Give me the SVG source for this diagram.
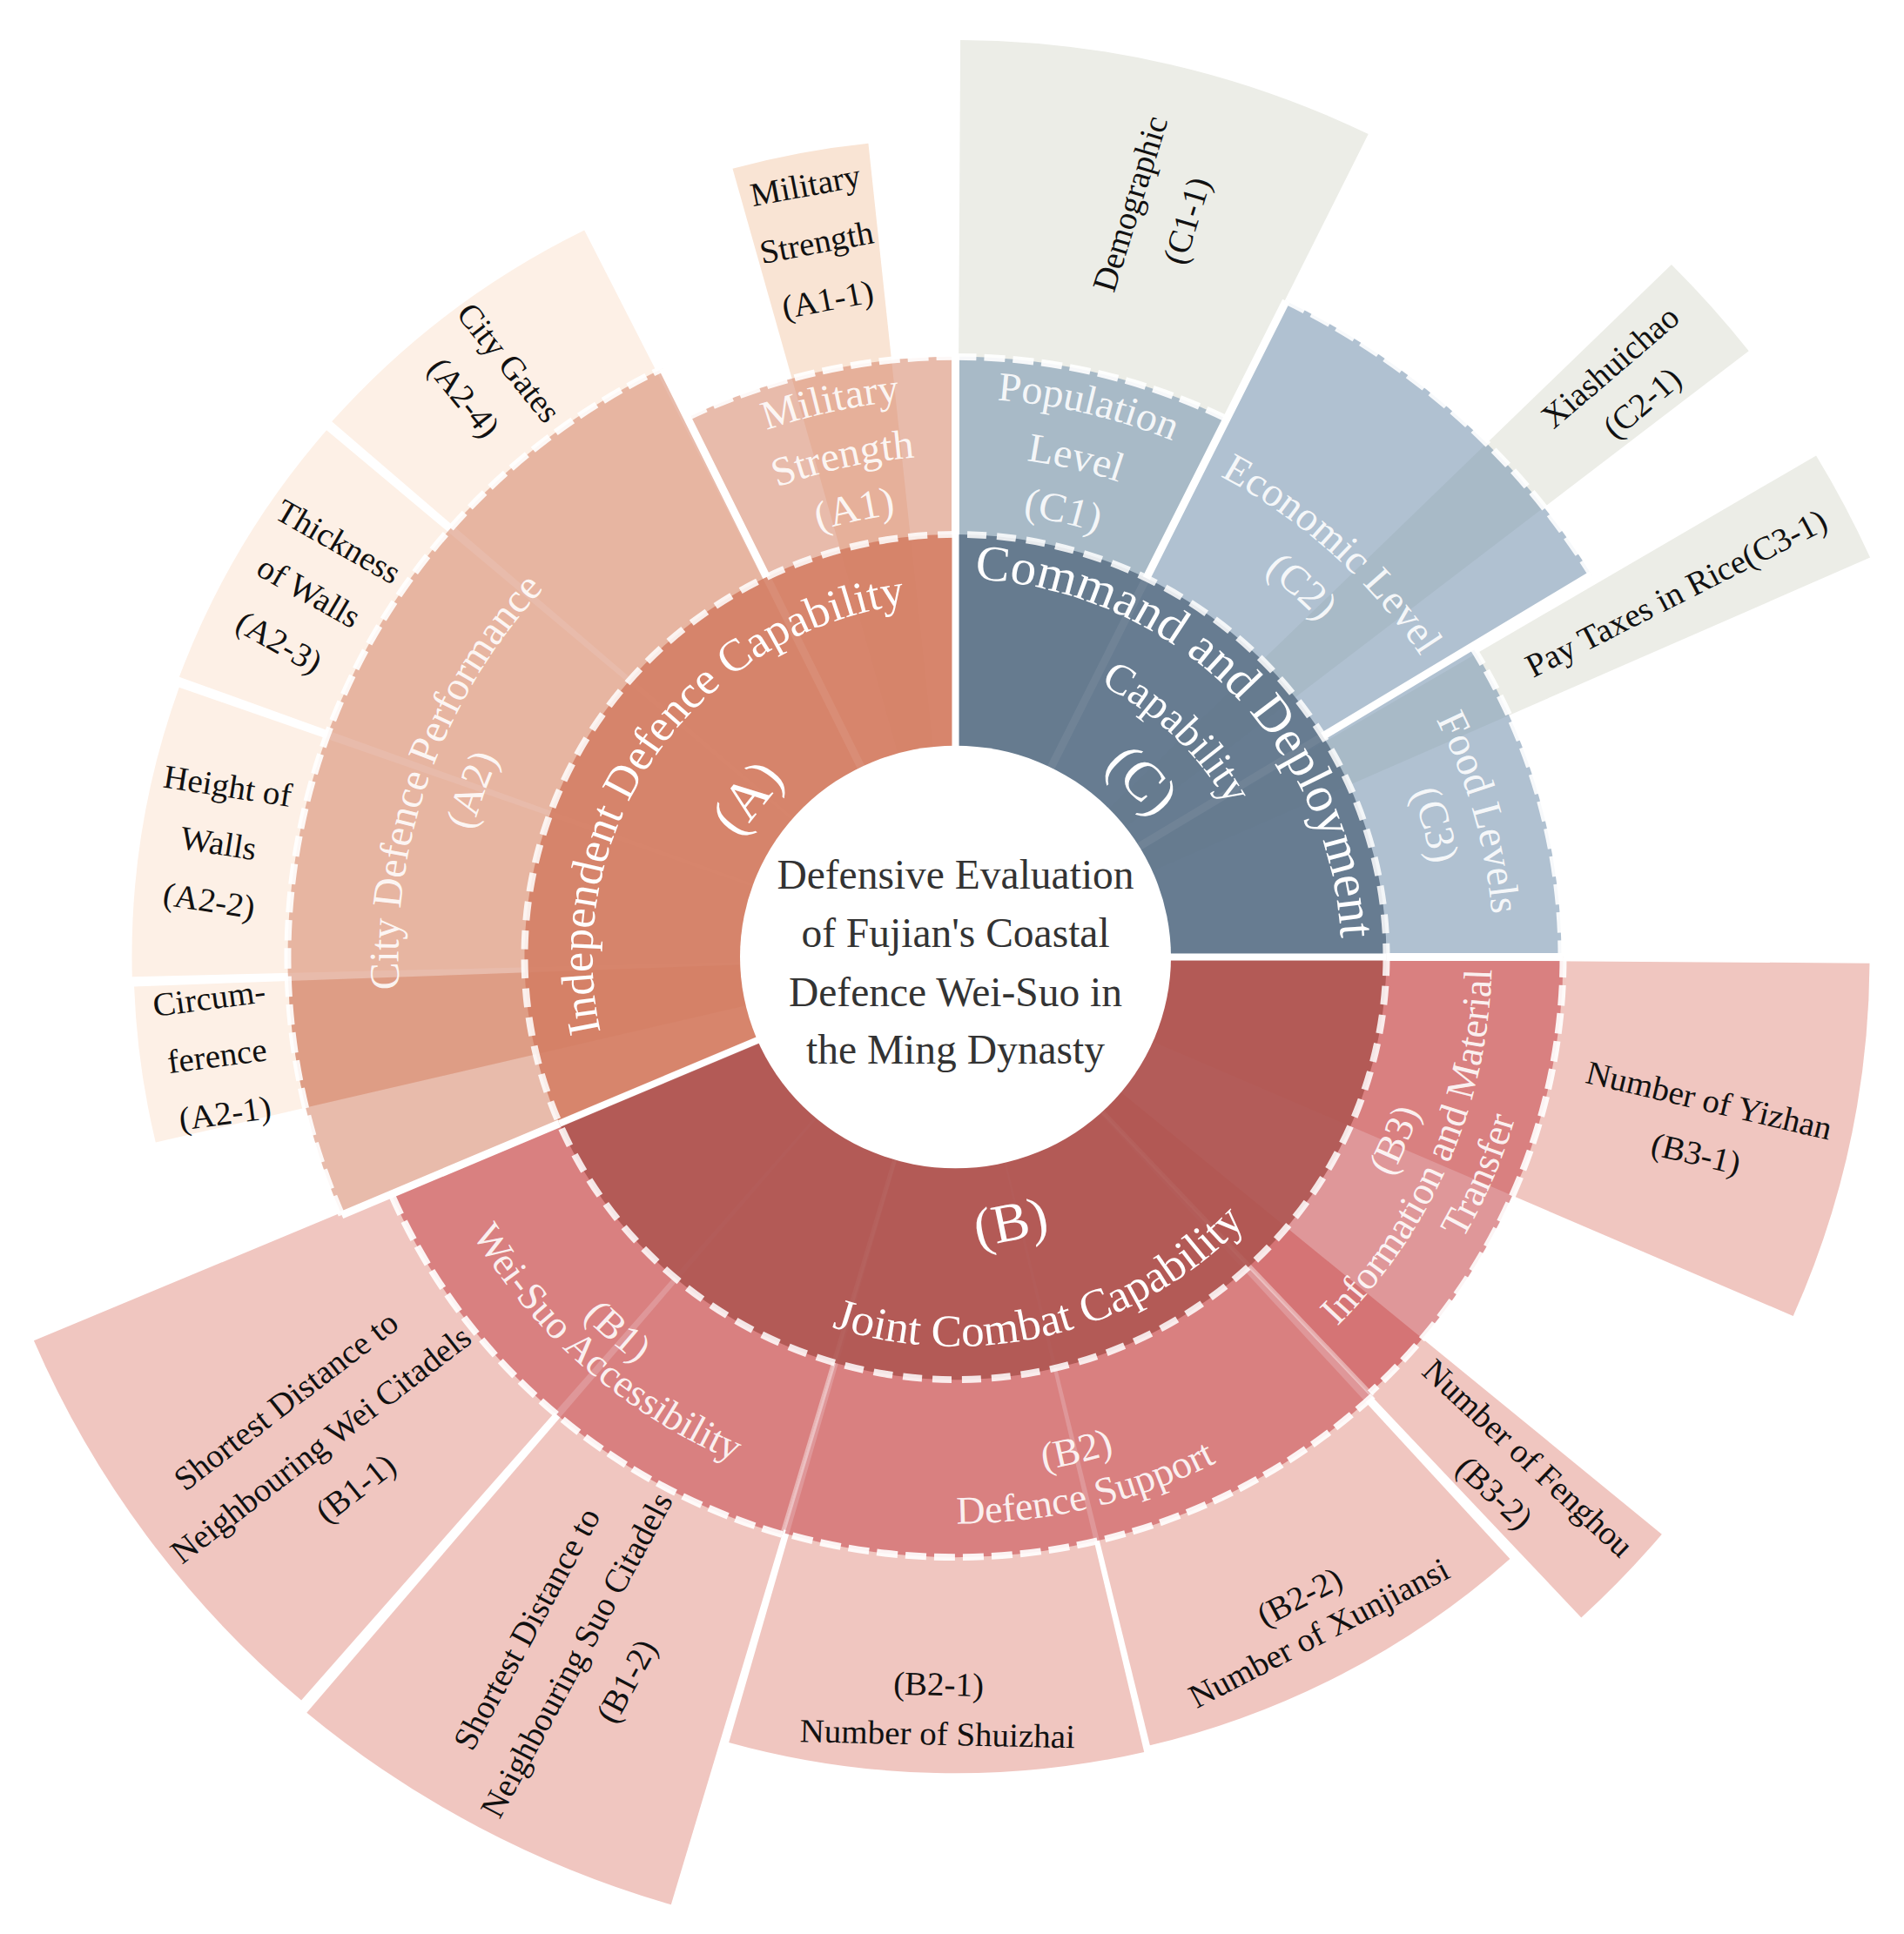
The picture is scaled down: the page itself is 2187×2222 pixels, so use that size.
<svg xmlns="http://www.w3.org/2000/svg" width="2187" height="2222" viewBox="0 0 2187 2222">
<defs>
<style>
text { font-family: "Liberation Serif", "Times New Roman", serif; }
.l3 { font-size: 39px; fill: #111; text-anchor: middle; }
.l2 { font-size: 48px; fill: #fff; fill-opacity: 0.9; text-anchor: middle; }
.l2b { font-size: 46px; fill: #fff; fill-opacity: 0.9; text-anchor: middle; }
.l1 { fill: #fff; text-anchor: middle; }
.lp { font-size: 64px; fill: #fff; text-anchor: middle; }
.a3 { fill: #fdf0e6; } .a3b { fill: #f9e4d4; } .c3 { fill: #ecede7; } .b3 { fill: #f0c6c0; }
.a2 { fill: #d88e73; fill-opacity: 0.6; } .c2 { fill: #7c98b3; fill-opacity: 0.6; } .b2 { fill: #ca5155; fill-opacity: 0.6; }
.a1 { fill: #d47d63; fill-opacity: 0.88; } .c1 { fill: #5c7288; fill-opacity: 0.88; } .b1 { fill: #ad5450; fill-opacity: 0.88; }
.dash2 { fill: none; stroke: #fff; stroke-opacity: 0.9; stroke-width: 8; stroke-dasharray: 24 9; }
.dash1 { fill: none; stroke: #fff; stroke-opacity: 0.85; stroke-width: 8; stroke-dasharray: 22 12; }
.sep2 { stroke: #fff; stroke-width: 9; fill: none; }
.sep2f { stroke: #fff; stroke-opacity: 0.4; stroke-width: 5; fill: none; }
.sep1 { stroke: #fff; stroke-width: 8; fill: none; }
</style>
<path id="o417" d="M -417 0 A 417 417 0 0 1 417 0"/>
<path id="o443" d="M -443 0 A 443 443 0 0 1 443 0"/>
<path id="o360" d="M -360 0 A 360 360 0 0 1 360 0"/>
<path id="o654" d="M -654 0 A 654 654 0 0 1 654 0"/>
<path id="o587" d="M -587 0 A 587 587 0 0 1 587 0"/>
<path id="o523" d="M -523 0 A 523 523 0 0 1 523 0"/>
<path id="o640" d="M -640 0 A 640 640 0 0 1 640 0"/>
<path id="o574" d="M -574 0 A 574 574 0 0 1 574 0"/>
<path id="o618" d="M -618 0 A 618 618 0 0 1 618 0"/>
<path id="o558" d="M -558 0 A 558 558 0 0 1 558 0"/>
<path id="i456" d="M -456 0 A 456 456 0 0 0 456 0"/>
<path id="i563" d="M -563 0 A 563 563 0 0 0 563 0"/>
<path id="i616" d="M -616 0 A 616 616 0 0 0 616 0"/>
<path id="i670" d="M -670 0 A 670 670 0 0 0 670 0"/>
<path id="i609" d="M -609 0 A 609 609 0 0 0 609 0"/>
<path id="i664" d="M -664 0 A 664 664 0 0 0 664 0"/>
<path id="i600" d="M -600 0 A 600 600 0 0 0 600 0"/>
<path id="i643" d="M -643 0 A 643 643 0 0 0 643 0"/>
</defs>
<rect x="0" y="0" width="2187" height="2222" fill="#fff"/>
<g id="sunburst" transform="translate(1097.5 1099.5) scale(1 0.981)">
<g id="level3">
<g id="node-A2-1"><path class="a3" d="M0 0 L-918.7 217.2 A944 944 0 0 1 -943.4 34.6 Z"/>
<text class="l3" transform="translate(-848.3 114.7) rotate(-7.7)"><tspan x="0" y="-54">Circum-</tspan><tspan x="0" y="14">ference</tspan><tspan x="0" y="82">(A2-1)</tspan></text></g>
<g id="node-A2-2"><path class="a3" d="M0 0 L-945.7 23.1 A946 946 0 0 1 -891.7 -315.8 Z"/>
<text class="l3" transform="translate(-846.5 -134.1) rotate(9)"><tspan x="0" y="-54">Height of</tspan><tspan x="0" y="14">Walls</tspan><tspan x="0" y="82">(A2-2)</tspan></text></g>
<g id="node-A2-3"><path class="a3" d="M0 0 L-891.6 -328.0 A950 950 0 0 1 -722.4 -617.0 Z"/>
<text class="l3" transform="translate(-742.2 -428.5) rotate(30)"><tspan x="0" y="-54">Thickness</tspan><tspan x="0" y="14">of Walls</tspan><tspan x="0" y="82">(A2-3)</tspan></text></g>
<g id="node-A2-4"><path class="a3" d="M0 0 L-716.3 -627.1 A952 952 0 0 1 -426.3 -851.2 Z"/>
<text class="l3" transform="translate(-537.9 -676.2) rotate(51.5)"><tspan x="0" y="-19">City Gates</tspan><tspan x="0" y="47">(A2-4)</tspan></text></g>
<g id="node-A1-1"><path class="a3b" d="M0 0 L-256.0 -923.2 A958 958 0 0 1 -100.1 -952.8 Z"/>
<text class="l3" transform="translate(-159.8 -837.9) rotate(-10.8)"><tspan x="0" y="-54">Military</tspan><tspan x="0" y="14">Strength</tspan><tspan x="0" y="82">(A1-1)</tspan></text></g>
<g id="node-C1-1"><path class="c3" d="M0 0 L5.6 -1074.0 A1074 1074 0 0 1 474.2 -963.7 Z"/>
<text class="l3" transform="translate(232.2 -872.6) rotate(-73)"><tspan x="0" y="-20">Demographic</tspan><tspan x="0" y="48">(C1-1)</tspan></text></g>
<g id="node-C2-1"><path class="c3" d="M0 0 L822.4 -811.0 A1155 1155 0 0 1 911.2 -709.8 Z"/>
<text class="l3" transform="translate(769.6 -671.0) rotate(-41.1)"><tspan x="0" y="-14">Xiashuichao</tspan><tspan x="0" y="42">(C2-1)</tspan></text></g>
<g id="node-C3-1"><path class="c3" d="M0 0 L988.6 -587.2 A1150 1150 0 0 1 1050.6 -467.8 Z"/>
<text class="l3" transform="translate(827.3 -427.0) rotate(-27.3)"><tspan x="0" y="14">Pay Taxes in Rice(C3-1)</tspan></text></g>
<g id="node-B3-1"><path class="b3" d="M0 0 L1050.0 7.3 A1050 1050 0 0 1 962.2 420.4 Z"/>
<text class="l3" transform="translate(858.4 198.2) rotate(13.5)"><tspan x="0" y="-18">Number of Yizhan</tspan><tspan x="0" y="46">(B3-1)</tspan></text></g>
<g id="node-B3-2"><path class="b3" d="M0 0 L811.3 676.0 A1056 1056 0 0 1 718.8 773.6 Z"/>
<text class="l3" transform="translate(639.1 606.4) rotate(43.5)"><tspan x="0" y="-14">Number of Fenghou</tspan><tspan x="0" y="42">(B3-2)</tspan></text></g>
<g id="node-B2-2"><path class="b3" d="M0 0 L636.9 704.9 A950 950 0 0 1 223.4 923.4 Z"/>
<text class="l3" transform="translate(405.8 769.6) rotate(-27.8)"><tspan x="0" y="-10">(B2-2)</tspan><tspan x="0" y="38">Number of Xunjiansi</tspan></text></g>
<g id="node-B2-1"><path class="b3" d="M0 0 L216.7 931.1 A956 956 0 0 1 -260.3 919.9 Z"/>
<text class="l3" transform="translate(-20.0 879.8) rotate(1.3)"><tspan x="0" y="-15">(B2-1)</tspan><tspan x="0" y="43">Number of Shuizhai</tspan></text></g>
<g id="node-B1-2"><path class="b3" d="M0 0 L-326.7 1109.9 A1157 1157 0 0 1 -745.2 885.0 Z"/>
<text class="l3" transform="translate(-436.1 816.9) rotate(-61.9)"><tspan x="0" y="-51">Shortest Distance to</tspan><tspan x="0" y="14">Neighbouring Suo Citadels</tspan><tspan x="0" y="79">(B1-2)</tspan></text></g>
<g id="node-B1-1"><path class="b3" d="M0 0 L-751.4 870.6 A1150 1150 0 0 1 -1058.6 449.3 Z"/>
<text class="l3" transform="translate(-729.7 570.1) rotate(-38)"><tspan x="0" y="-51">Shortest Distance to</tspan><tspan x="0" y="14">Neighbouring Wei Citadels</tspan><tspan x="0" y="79">(B1-1)</tspan></text></g>
</g>
<g id="level2">
<g id="node-A2"><path class="a2" d="M0 0 L-705.0 302.2 A767 767 0 0 1 -336.2 -689.4 Z"/>
<path d="M0 0 L-746.4 176.4 A767 767 0 0 1 -766.5 28.1 Z" fill="#d88e73" fill-opacity="0.6"/>
<path class="dash2" d="M-705.0 302.2 A767 767 0 0 1 -336.2 -689.4"/>
<text class="l2" transform="rotate(289.5)"><textPath href="#o640" startOffset="50%">City Defence Performance</textPath></text>
<text class="l2" transform="rotate(289.4)"><textPath href="#o574" startOffset="50%">(A2)</textPath></text></g>
<g id="node-A1"><path class="a2" d="M0 0 L-308.2 -631.8 A703 703 0 0 1 0 -703 Z"/>
<path class="dash2" d="M-308.2 -631.8 A703 703 0 0 1 0 -703"/>
<text class="l2" transform="rotate(347.5)"><textPath href="#o654" startOffset="50%">Military</textPath></text>
<text class="l2" transform="rotate(347.5)"><textPath href="#o587" startOffset="50%">Strength</textPath></text>
<text class="l2" transform="rotate(347.5)"><textPath href="#o523" startOffset="50%">(A1)</textPath></text></g>
<g id="node-C1"><path class="c2" d="M0 0 L0 -703 A703 703 0 0 1 311.5 -630.2 Z"/>
<path class="dash2" d="M0 -703 A703 703 0 0 1 311.5 -630.2"/>
<text class="l2" transform="rotate(13.3)"><textPath href="#o654" startOffset="50%">Population</textPath></text>
<text class="l2" transform="rotate(13.3)"><textPath href="#o587" startOffset="50%">Level</textPath></text>
<text class="l2" transform="rotate(13.3)"><textPath href="#o523" startOffset="50%">(C1)</textPath></text></g>
<g id="node-C2"><path class="c2" d="M0 0 L379.7 -768.3 A857 857 0 0 1 730.7 -447.8 Z"/>
<path class="dash2" d="M379.7 -768.3 A857 857 0 0 1 730.7 -447.8"/>
<text class="l2" transform="rotate(42.5)"><textPath href="#o640" startOffset="50%">Economic Level</textPath></text>
<text class="l2" transform="rotate(42.5)"><textPath href="#o574" startOffset="50%">(C2)</textPath></text></g>
<g id="node-C3"><path class="c2" d="M0 0 L593.4 -363.7 A696 696 0 0 1 696 0 Z"/>
<path class="dash2" d="M593.4 -363.7 A696 696 0 0 1 696 0"/>
<text class="l2" transform="rotate(74.3)"><textPath href="#o618" startOffset="50%">Food Levels</textPath></text>
<text class="l2" transform="rotate(74.3)"><textPath href="#o558" startOffset="50%">(C3)</textPath></text></g>
<g id="node-B3"><path class="b2" d="M0 0 L698 0 A698 698 0 0 1 476.0 510.5 Z"/>
<path d="M0 0 L536.3 446.8 A698 698 0 0 1 476.0 510.5 Z" fill="#ca5155" fill-opacity="0.25"/>
<path class="dash2" d="M698 0 A698 698 0 0 1 476.0 510.5"/>
<text class="l2b" transform="rotate(-67)"><textPath href="#i563" startOffset="50%">(B3)</textPath></text>
<text class="l2b" transform="rotate(-67)"><textPath href="#i616" startOffset="50%">Information and Material</textPath></text>
<text class="l2b" transform="rotate(-67)"><textPath href="#i670" startOffset="50%">Transfer</textPath></text></g>
<g id="node-B2"><path class="b2" d="M0 0 L479.4 514.1 A703 703 0 0 1 -198.5 674.4 Z"/>
<path class="dash2" d="M479.4 514.1 A703 703 0 0 1 -198.5 674.4"/>
<text class="l2b" transform="rotate(-13.5)"><textPath href="#i609" startOffset="50%">(B2)</textPath></text>
<text class="l2b" transform="rotate(-13.5)"><textPath href="#i664" startOffset="50%">Defence Support</textPath></text></g>
<g id="node-B1"><path class="b2" d="M0 0 L-199.0 676.3 A705 705 0 0 1 -648.0 277.7 Z"/>
<path class="dash2" d="M-199.0 676.3 A705 705 0 0 1 -648.0 277.7"/>
<text class="l2b" transform="rotate(41.5)"><textPath href="#i600" startOffset="50%">(B1)</textPath></text>
<text class="l2b" transform="rotate(41.5)"><textPath href="#i643" startOffset="50%">Wei-Suo Accessibility</textPath></text></g>
</g>
<g id="level2-dividers">
<path class="sep2" d="M0 0 L-336.2 -689.4 M0 0 L379.7 -768.3 M0 0 L730.7 -447.8 M0 0 L0 -705 M0 0 L698 0 M0 0 L-705.0 302.2"/>
<path class="sep2f" d="M0 0 L479.4 514.1 M0 0 L-199.0 676.3"/>
</g>
<g id="level1">
<g id="node-A"><path class="a1" d="M0 0 L-455.0 195.0 A495 495 0 0 1 0 -495 Z"/>
<text class="l1" font-size="53" transform="rotate(305)"><textPath href="#o417" startOffset="50%">Independent Defence Capability</textPath></text>
<text class="lp" transform="translate(-240.3 -187.8) rotate(-52)" y="22">(A)</text></g>
<g id="node-C"><path class="c1" d="M0 0 L0 -495 A495 495 0 0 1 495 0 Z"/>
<text class="l1" font-size="59" transform="rotate(45)"><textPath href="#o443" startOffset="50%">Command and Deployment</textPath></text>
<text class="l1" font-size="50" transform="rotate(44)"><textPath href="#o360" startOffset="50%">Capability</textPath></text>
<text class="lp" transform="translate(215.8 -208.4) rotate(46)" y="22">(C)</text></g>
<g id="node-B"><path class="b1" d="M0 0 L495 0 A495 495 0 0 1 -455.0 195.0 Z"/>
<text class="lp" transform="translate(63.0 309.7) rotate(-11.5)" y="22">(B)</text>
<text class="l1" font-size="53" transform="rotate(-14.4)"><textPath href="#i456" startOffset="50%">Joint Combat Capability</textPath></text></g>
</g>
<g id="level1-dividers">
<path class="sep1" d="M0 0 L0 -495 M0 0 L495 0 M0 0 L-455.0 195.0"/>
<circle class="dash1" cx="0" cy="0" r="495"/>
</g>
</g>
<g id="node-root">
<ellipse cx="1097.5" cy="1099.5" rx="247.5" ry="242.8" fill="#fff"/>
<text x="1097.5" y="1021" font-size="47.5" fill="#333" text-anchor="middle">Defensive Evaluation</text>
<text x="1097.5" y="1088" font-size="47.5" fill="#333" text-anchor="middle">of Fujian's Coastal</text>
<text x="1097.5" y="1156" font-size="47.5" fill="#333" text-anchor="middle">Defence Wei-Suo in</text>
<text x="1097.5" y="1222" font-size="47.5" fill="#333" text-anchor="middle">the Ming Dynasty</text>
</g>
</svg>
